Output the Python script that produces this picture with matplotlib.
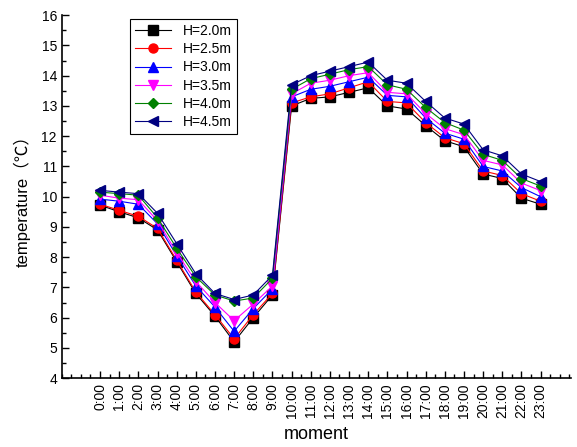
import matplotlib
matplotlib.use('Agg')
import matplotlib.pyplot as plt
from matplotlib.ticker import MultipleLocator

plt.rcParams['font.family'] = ['Liberation Sans', 'Noto Sans CJK SC', 'DejaVu Sans']

#Data
hours = ['%d:00' % h for h in range(24)]
heights = ['H=2.0m', 'H=2.5m', 'H=3.0m', 'H=3.5m', 'H=4.0m', 'H=4.5m']
h20 = [9.72, 9.5, 9.3, 8.9, 7.85, 6.8, 6.05, 5.2, 6.0, 6.75, 13.0, 13.25, 13.3, 13.45, 13.6,
       13.0, 12.9, 12.35, 11.85, 11.65, 10.75, 10.6, 9.95, 9.75]
h25 = [9.75, 9.55, 9.35, 8.95, 7.9, 6.85, 6.1, 5.3, 6.1, 6.8, 13.1, 13.3, 13.4, 13.6, 13.8,
       13.15, 13.1, 12.45, 11.95, 11.75, 10.85, 10.7, 10.1, 9.85]
h30 = [9.92, 9.85, 9.75, 9.1, 8.05, 7.05, 6.35, 5.55, 6.3, 6.95, 13.3, 13.55, 13.65, 13.8, 13.95,
       13.35, 13.3, 12.6, 12.1, 11.9, 11.0, 10.85, 10.3, 10.0]
h35 = [10.05, 9.95, 9.9, 9.2, 8.15, 7.2, 6.5, 5.9, 6.45, 7.05, 13.4, 13.75, 13.85, 14.0, 14.1,
       13.45, 13.4, 12.75, 12.25, 12.05, 11.2, 11.05, 10.45, 10.2]
h40 = [10.15, 10.1, 10.05, 9.3, 8.3, 7.35, 6.75, 6.55, 6.65, 7.3, 13.55, 13.9, 14.05, 14.2, 14.3,
       13.7, 13.55, 12.95, 12.45, 12.2, 11.4, 11.2, 10.6, 10.35]
h45 = [10.21, 10.15, 10.1, 9.45, 8.45, 7.45, 6.8, 6.6, 6.75, 7.4, 13.7, 14.0, 14.15, 14.3, 14.45,
       13.85, 13.75, 13.15, 12.6, 12.4, 11.55, 11.35, 10.75, 10.5]

series = [h20, h25, h30, h35, h40, h45]
colors = ['black', 'red', 'blue', 'magenta', 'green', 'navy']
markers = ['s', 'o', '^', 'v', 'D', '<']

fig = plt.figure(figsize=(5.77, 4.47), dpi=100)
ax = fig.add_axes([0.107, 0.154, 0.883, 0.812])

x = list(range(len(hours)))
for vals, lab, c, m in zip(series, heights, colors, markers):
    ax.plot(x, vals, color=c, marker=m, markersize=6.5 if m != 'D' else 5.5,
            linewidth=0.8, label=lab)

ax.set_xlim(-2, 24.6)
ax.set_ylim(4, 16)
ax.set_xticks(x)
ax.set_xticklabels(hours, rotation=90, fontsize=10)
ax.xaxis.set_minor_locator(MultipleLocator(0.5))
ax.yaxis.set_major_locator(MultipleLocator(1))
ax.yaxis.set_minor_locator(MultipleLocator(0.5))
ax.tick_params(axis='both', which='major', direction='in', length=5, width=1, labelsize=10)
ax.tick_params(axis='both', which='minor', direction='in', length=3, width=1)

ax.spines['top'].set_visible(False)
ax.spines['right'].set_visible(False)
ax.spines['left'].set_linewidth(1.2)
ax.spines['bottom'].set_linewidth(1.2)

ax.set_xlabel('moment', fontsize=13, labelpad=6)
ax.set_ylabel('temperature（℃）', fontsize=12, labelpad=8)

leg = ax.legend(loc='upper left', bbox_to_anchor=(0.12, 1.01), fontsize=10,
                fancybox=False, edgecolor='black', framealpha=1,
                handlelength=2.6, labelspacing=0.3, borderpad=0.4)
leg.get_frame().set_linewidth(0.8)

fig.savefig('out.png', dpi=100)
